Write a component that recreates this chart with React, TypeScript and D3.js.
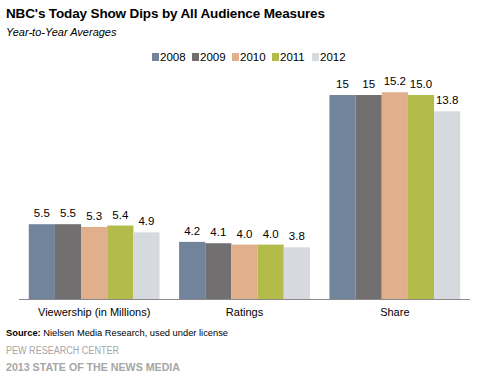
import React from "react";
import * as d3 from "d3";

const categories = ["Viewership (in Millions)", "Ratings", "Share"];
const years = ["2008", "2009", "2010", "2011", "2012"];
const labels2008 = ["5.5", "4.2", "15"];
const labels2009 = ["5.5", "4.1", "15"];
const labels2010 = ["5.3", "4.0", "15.2"];
const labels2011 = ["5.4", "4.0", "15.0"];
const labels2012 = ["4.9", "3.8", "13.8"];
const colors = ["#71849b", "#716f6f", "#dfb08b", "#b3bb4a", "#d6d9dd"];

const seriesLabels = [labels2008, labels2009, labels2010, labels2011, labels2012];

export default function App() {
  const W = 481, H = 377;
  const left = 19, right = 470, base = 299;
  const x0 = d3.scaleBand<string>().domain(categories).range([left, right]).paddingInner(0.13).paddingOuter(0.065);
  const x1 = d3.scaleBand<string>().domain(years).range([0, x0.bandwidth()]).padding(0);
  const y = d3.scaleLinear().domain([0, 16]).range([base, base - 16 * 13.6]);
  const font = "'Liberation Sans', Arial, sans-serif";

  return (
    <svg width={W} height={H} style={{ position: "absolute", left: 0, top: 0, fontFamily: font }}>
      <rect width={W} height={H} fill="#fff" />
      <text x={6} y={18} fontSize={13.5} fontWeight="bold" fill="#000" textLength={319} lengthAdjust="spacing">NBC's Today Show Dips by All Audience Measures</text>
      <text x={6} y={36} fontSize={11} fontStyle="italic" fill="#000">Year-to-Year Averages</text>
      {years.map((yr, i) => (
        <g key={yr} transform={`translate(${152 + i * 40},53)`}>
          <rect x={0} y={0} width={7} height={8} fill={colors[i]} />
          <text x={8} y={8} fontSize={11.5} fill="#000">{yr}</text>
        </g>
      ))}
      {years.map((yr, si) => (
        <g key={yr}>
          {categories.map((c, ci) => {
            const v = +seriesLabels[si][ci];
            const bx = (x0(c) ?? 0) + (x1(yr) ?? 0);
            return (
              <g key={c}>
                <rect x={bx} y={y(v)} width={x1.bandwidth()} height={base - y(v)} fill={colors[si]} />
                <text x={bx + x1.bandwidth() / 2} y={y(v) - 7} textAnchor="middle" fontSize={11.5} fill="#000">{seriesLabels[si][ci]}</text>
              </g>
            );
          })}
        </g>
      ))}
      <line x1={left} x2={right} y1={base + 0.5} y2={base + 0.5} stroke="#8a8a8a" strokeWidth={1} />
      {categories.map((c) => (
        <text key={c} x={(x0(c) ?? 0) + x0.bandwidth() / 2} y={316} textAnchor="middle" fontSize={11} fill="#000">{c}</text>
      ))}
      <text x={6} y={336} fontSize={9.5} fill="#000" textLength={222} lengthAdjust="spacingAndGlyphs">
        <tspan fontWeight="bold">Source:</tspan> Nielsen Media Research, used under license
      </text>
      <text x={6} y={354} fontSize={10} fill="#a6a6a6" textLength={113} lengthAdjust="spacingAndGlyphs">PEW RESEARCH CENTER</text>
      <text x={6} y={371} fontSize={10.5} fontWeight="bold" fill="#a6a6a6" textLength={174} lengthAdjust="spacingAndGlyphs">2013 STATE OF THE NEWS MEDIA</text>
    </svg>
  );
}
